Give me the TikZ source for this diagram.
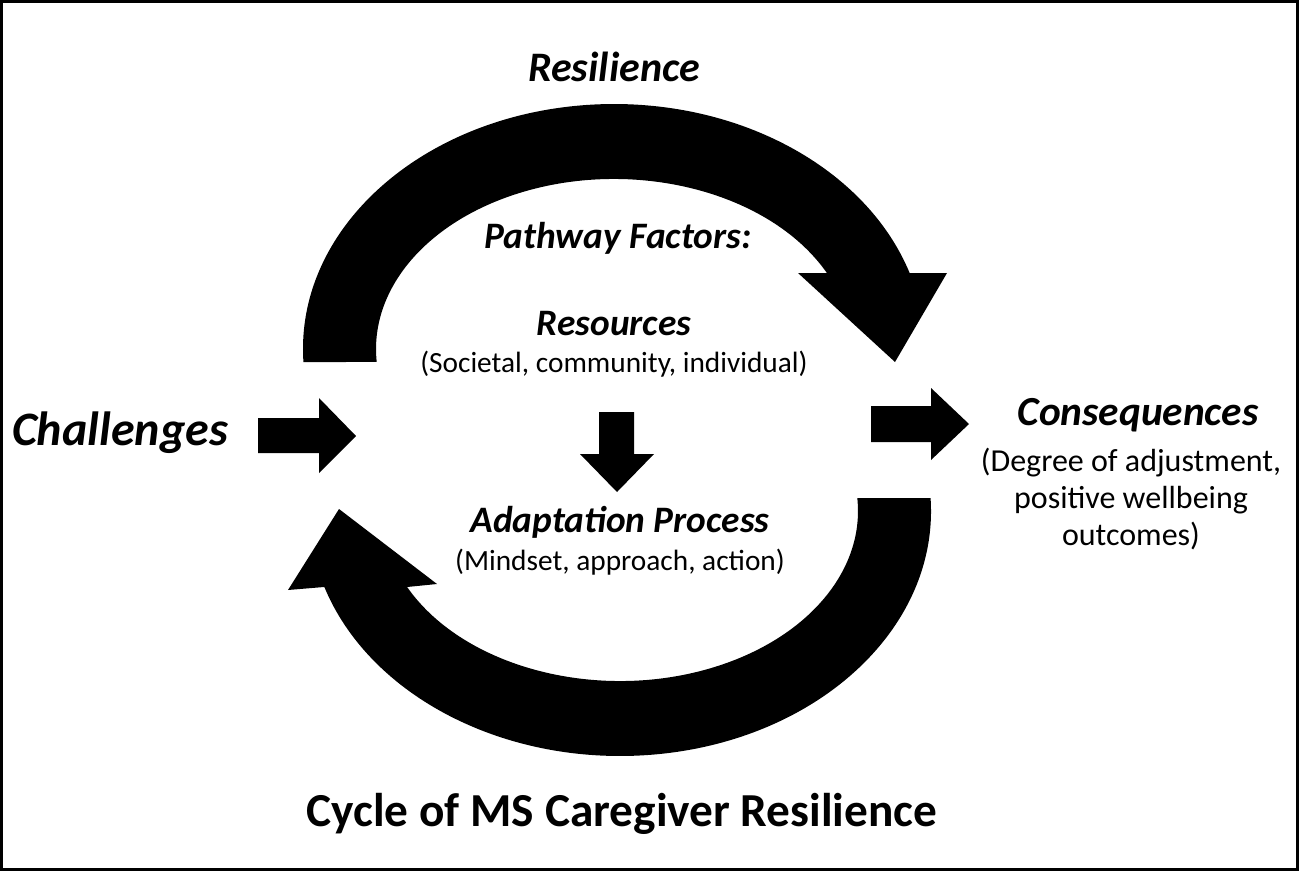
\documentclass[tikz,border=0pt]{standalone}
\usepackage{fontspec}
\setmainfont{Carlito}
\begin{document}
\begin{tikzpicture}[x=0.75pt,y=-0.75pt,
  bigtitle/.style={inner sep=0pt, font=\fontsize{35.5}{40}\selectfont\bfseries},
  heading/.style={inner sep=0pt, font=\fontsize{31.5}{36}\selectfont\bfseries\itshape},
  subhead/.style={inner sep=0pt, font=\fontsize{28}{32}\selectfont\bfseries\itshape},
  note/.style={inner sep=0pt, align=center, font=\fontsize{22}{26}\selectfont},
  sidenote/.style={inner sep=0pt, align=center, font=\fontsize{24}{27.5}\selectfont},
  blockarrow/.style={fill=black}]
\useasboundingbox (0,0) rectangle (1299,871);
\draw[line width=1.8] (1.5,1.5) rectangle (1297.5,869.5);

% upper circular arrow (left end, over the top, head pointing down-right)
\fill[blockarrow] (303.44,362) arc[start angle=176.96, end angle=341.93, x radius=311, y radius=245]
  -- (947,273) -- (895,362) -- (798,273) -- (826.9,273)
  arc[start angle=333.45, end angle=175.61, x radius=238, y radius=170] -- cycle;

% lower circular arrow (right end, under the bottom, head pointing up-left)
\fill[blockarrow] (930.56,498) arc[start angle=-3.04, end angle=161.93, x radius=311, y radius=245]
  -- (288,590) -- (339,509) -- (437,584) -- (407.1,587)
  arc[start angle=153.45, end angle=-4.39, x radius=238, y radius=170] -- cycle;

% straight block arrows
\fill[blockarrow] (258,418) -- (319,418) -- (319,398) -- (356,436) -- (319,473) -- (319,453) -- (258,453) -- cycle;
\fill[blockarrow] (871,406) -- (931,406) -- (931,388) -- (969,424) -- (931,460) -- (931,442) -- (871,442) -- cycle;
\fill[blockarrow] (599,412) -- (634,412) -- (634,454) -- (654,454) -- (617,492) -- (580,454) -- (599,454) -- cycle;

% labels
\node[heading] (res) at (614,67) {Resilience};
\node[subhead] (path) at (618,238) {Pathway Factors:};
\node[subhead] (resources) at (614,324) {Resources};
\node[note] (soc) at (614,364) {(Societal, community, individual)};
\node[heading, font=\fontsize{36}{40}\selectfont\bfseries\itshape] (chal) at (120,433) {Challenges};
\node[heading, font=\fontsize{31}{36}\selectfont\bfseries\itshape] (cons) at (1138,415) {Consequences};
\node[sidenote] (deg) at (1131,499) {(Degree of adjustment,\\positive wellbeing\\outcomes)};
\node[subhead] (adapt) at (620,522) {Adaptation Process};
\node[note] (mind) at (620,562) {(Mindset, approach, action)};
\node[bigtitle] (title) at (622,814) {Cycle of MS Caregiver Resilience};
\end{tikzpicture}
\end{document}
